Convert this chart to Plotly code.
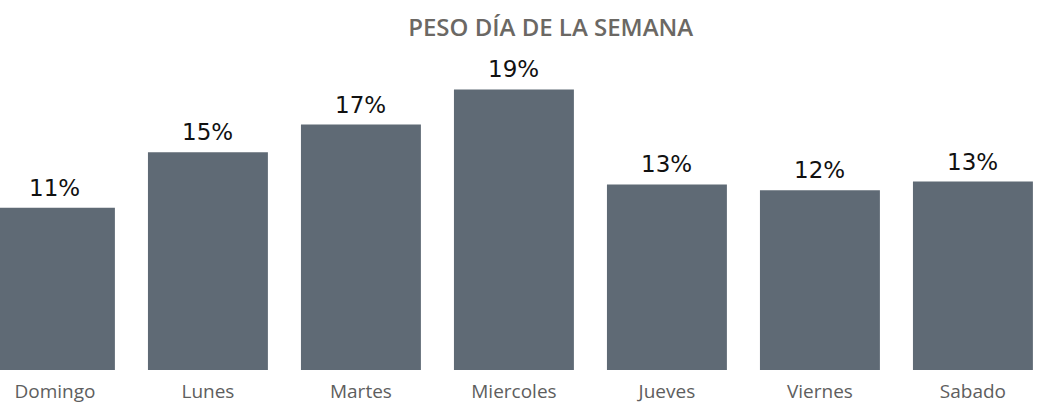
import plotly.graph_objects as go

days = ["Domingo", "Lunes", "Martes", "Miercoles", "Jueves", "Viernes", "Sabado"]
weights = [11.1, 14.9, 16.8, 19.2, 12.7, 12.3, 12.9]
title = "PESO DÍA DE LA SEMANA"

xs = list(range(len(days)))

fig = go.Figure(go.Bar(
    x=xs,
    y=weights,
    width=0.784,
    marker=dict(color="#5f6a75", line=dict(width=0)),
    hoverinfo="x+y",
))

for xi, v in zip(xs, weights):
    fig.add_annotation(x=xi, y=v, text=f"{v:.0f}%", showarrow=False,
                       yanchor="bottom", yshift=5,
                       font=dict(family="DejaVu Sans, sans-serif", size=23, color="#111111"))

fig.update_layout(
    width=1043, height=404,
    margin=dict(l=0, r=0, t=50, b=34, autoexpand=False),
    paper_bgcolor="white", plot_bgcolor="white",
    showlegend=False,
    title=dict(text=title, x=0.528, xanchor="center", y=0.931, yanchor="middle",
               font=dict(family="Open Sans, sans-serif", size=24, weight=600, color="#6b6864")),
    xaxis=dict(tickmode="array", tickvals=xs, ticktext=days, automargin=False,
               range=[-0.359, 6.458], showgrid=False, zeroline=False, showline=False,
               ticks="", ticklabelstandoff=8,
               tickfont=dict(family="Open Sans, sans-serif", size=19, color="#5e5e5e")),
    yaxis=dict(range=[0, 21.9], visible=False, automargin=False),
)

fig.write_html("out.html", config={"displayModeBar": False},
               post_script="document.body.style.margin='0';")
